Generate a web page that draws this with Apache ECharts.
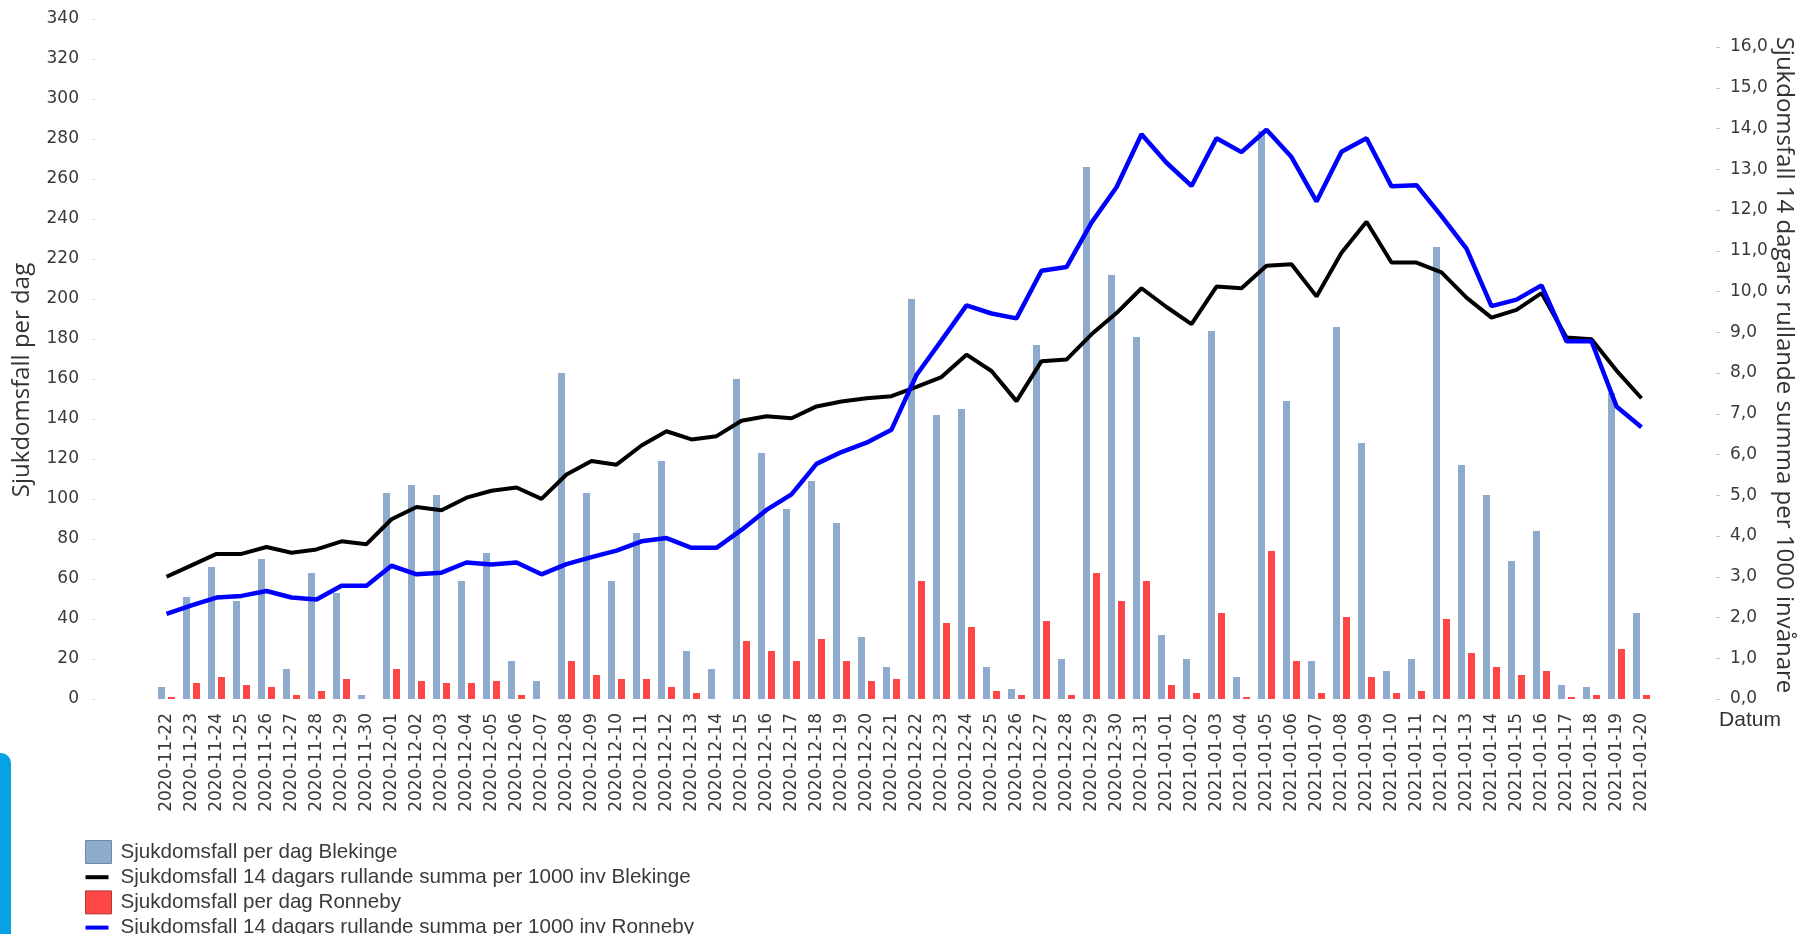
<!DOCTYPE html>
<html>
<head>
<meta charset="utf-8">
<script src="https://cdn.jsdelivr.net/npm/echarts@6/dist/echarts.min.js"></script>
<style>
  html, body { margin: 0; padding: 0; background: #fff; }
  #chart { width: 1802px; height: 934px; }
</style>
</head>
<body>
<div id="chart"></div>
<script>
// datum (x-axel)
var datum = [
    '2020-11-22', '2020-11-23', '2020-11-24', '2020-11-25', '2020-11-26', '2020-11-27', '2020-11-28', '2020-11-29', '2020-11-30',
    '2020-12-01', '2020-12-02', '2020-12-03', '2020-12-04', '2020-12-05', '2020-12-06', '2020-12-07', '2020-12-08', '2020-12-09',
    '2020-12-10', '2020-12-11', '2020-12-12', '2020-12-13', '2020-12-14', '2020-12-15', '2020-12-16', '2020-12-17', '2020-12-18',
    '2020-12-19', '2020-12-20', '2020-12-21', '2020-12-22', '2020-12-23', '2020-12-24', '2020-12-25', '2020-12-26', '2020-12-27',
    '2020-12-28', '2020-12-29', '2020-12-30', '2020-12-31', '2021-01-01', '2021-01-02', '2021-01-03', '2021-01-04', '2021-01-05',
    '2021-01-06', '2021-01-07', '2021-01-08', '2021-01-09', '2021-01-10', '2021-01-11', '2021-01-12', '2021-01-13', '2021-01-14',
    '2021-01-15', '2021-01-16', '2021-01-17', '2021-01-18', '2021-01-19', '2021-01-20'
];

// sjukdomsfall per dag (vänster axel)
var blekingePerDag = [6, 51, 66, 49, 70, 15, 63, 53, 2, 103, 107, 102, 59, 73, 19, 9, 163, 103, 59, 83,
    119, 24, 15, 160, 123, 95, 109, 88, 31, 16, 200, 142, 145, 16, 5, 177, 20, 266, 212, 181,
    32, 20, 184, 11, 284, 149, 19, 186, 128, 14, 20, 226, 117, 102, 69, 84, 7, 6, 153, 43];
var ronnebyPerDag = [1, 8, 11, 7, 6, 2, 4, 10, 0, 15, 9, 8, 8, 9, 2, 0, 19, 12, 10, 10,
    6, 3, 0, 29, 24, 19, 30, 19, 9, 10, 59, 38, 36, 4, 2, 39, 2, 63, 49, 59,
    7, 3, 43, 1, 74, 19, 3, 41, 11, 3, 4, 40, 23, 16, 12, 14, 1, 2, 25, 2];

// 14 dagars rullande summa per 1000 inv (höger axel)
var blekingeRullande = [3.00, 3.28, 3.56, 3.56, 3.73, 3.59, 3.67, 3.87, 3.80, 4.41, 4.71, 4.63, 4.94, 5.11, 5.19, 4.91, 5.51, 5.84, 5.75, 6.22,
    6.57, 6.37, 6.45, 6.83, 6.94, 6.89, 7.18, 7.30, 7.38, 7.43, 7.66, 7.90, 8.45, 8.05, 7.31, 8.29, 8.33, 8.95, 9.47, 10.08,
    9.62, 9.20, 10.12, 10.08, 10.63, 10.67, 9.88, 10.95, 11.71, 10.71, 10.71, 10.47, 9.85, 9.36, 9.55, 9.96, 8.87, 8.83, 8.06, 7.38];
var ronnebyRullande = [2.09, 2.30, 2.49, 2.53, 2.65, 2.49, 2.44, 2.78, 2.78, 3.27, 3.06, 3.10, 3.35, 3.30, 3.35, 3.06, 3.31, 3.48, 3.64, 3.87,
    3.95, 3.71, 3.71, 4.15, 4.64, 5.02, 5.77, 6.06, 6.29, 6.61, 7.95, 8.80, 9.66, 9.46, 9.34, 10.51, 10.60, 11.69, 12.56, 13.86,
    13.16, 12.59, 13.76, 13.42, 13.97, 13.30, 12.21, 13.43, 13.76, 12.58, 12.61, 11.85, 11.05, 9.64, 9.80, 10.15, 8.78, 8.78, 7.18, 6.67];

var namn = [
    'Sjukdomsfall per dag Blekinge',
    'Sjukdomsfall 14 dagars rullande summa per 1000 inv Blekinge',
    'Sjukdomsfall per dag Ronneby',
    'Sjukdomsfall 14 dagars rullande summa per 1000 inv Ronneby'
];

var tickFont = { fontFamily: 'DejaVu Sans', fontSize: 17, color: '#3a3a3a' };
// kort tjock linje som legendsymbol (osynliga punkter ger rutans storlek)
var linjeIkon = 'path://M0,0M26,23M0,9.5H23V13.5H0Z';

var chart = echarts.init(document.getElementById('chart'));
var option = {
    animation: false,
    backgroundColor: '#fff',
    grid: [
        { left: 154, right: 148, top: 19, bottom: 235 },   // staplar, 0-340
        { left: 154, right: 148, top: 47, bottom: 235 }    // linjer, 0-16
    ],
    xAxis: [
        {
            type: 'category', gridIndex: 0, data: datum,
            axisLine: { show: false }, axisTick: { show: false },
            axisLabel: Object.assign({ rotate: 90, interval: 0, margin: 14 }, tickFont)
        },
        { type: 'category', gridIndex: 1, data: datum, show: false }
    ],
    yAxis: [
        {
            type: 'value', gridIndex: 0, min: 0, max: 340, interval: 20,
            position: 'left', offset: 59,
            splitLine: { show: false }, axisLine: { show: false },
            axisTick: { show: true, length: 2, lineStyle: { color: '#cfcfcf' } },
            axisLabel: Object.assign({ margin: 16 }, tickFont)
        },
        {
            type: 'value', gridIndex: 1, min: 0, max: 16, interval: 1,
            position: 'right', offset: 62,
            splitLine: { show: false }, axisLine: { show: false },
            axisTick: { show: true, length: 4, lineStyle: { color: '#c4c4c4' } },
            axisLabel: Object.assign({
                margin: 14,
                formatter: function (v) { return v.toFixed(1).replace('.', ','); }
            }, tickFont)
        }
    ],
    legend: {
        orient: 'vertical', left: 80, top: 835, height: 140,
        itemWidth: 26, itemHeight: 23, itemGap: 1.7,
        textStyle: { fontFamily: 'Liberation Sans', fontSize: 20.6, color: '#3a3a3a', lineHeight: 23, padding: [0, 0, 0, 4] },
        data: [
            { name: namn[0], icon: 'rect', itemStyle: { borderColor: '#7189a8', borderWidth: 1 } },
            { name: namn[1], icon: linjeIkon },
            { name: namn[2], icon: 'rect', itemStyle: { borderColor: '#b03a3a', borderWidth: 1 } },
            { name: namn[3], icon: linjeIkon }
        ]
    },
    graphic: [
        {   // blå kant nere till vänster
            type: 'rect', left: 0, top: 753,
            shape: { width: 11, height: 181, r: [0, 10, 0, 0] },
            style: { fill: '#05a3e3' }
        },
        {
            type: 'text', x: 22, y: 380, rotation: Math.PI / 2,
            style: { text: 'Sjukdomsfall per dag', font: '24px "Open Sans"', fill: '#333', align: 'center', verticalAlign: 'middle' }
        },
        {
            type: 'text', x: 1784, y: 365, rotation: -Math.PI / 2,
            style: { text: 'Sjukdomsfall 14 dagars rullande summa per 1000 invånare', font: '24px "Open Sans"', fill: '#333', align: 'center', verticalAlign: 'middle' }
        },
        {
            type: 'text', x: 1750, y: 720,
            style: { text: 'Datum', font: '21px "Liberation Sans"', fill: '#333', align: 'center', verticalAlign: 'middle' }
        }
    ],
    series: [
        {
            name: namn[0], type: 'bar', xAxisIndex: 0, yAxisIndex: 0,
            data: blekingePerDag, barWidth: 7, barGap: '43%',
            itemStyle: { color: '#8eaacc' }
        },
        {
            name: namn[1], type: 'line', xAxisIndex: 1, yAxisIndex: 1, z: 3,
            data: blekingeRullande, symbol: 'none',
            lineStyle: { color: '#000', width: 4 }, itemStyle: { color: '#000' }
        },
        {
            name: namn[2], type: 'bar', xAxisIndex: 0, yAxisIndex: 0,
            data: ronnebyPerDag, barWidth: 7, barGap: '43%',
            itemStyle: { color: '#ff4646' }
        },
        {
            name: namn[3], type: 'line', xAxisIndex: 1, yAxisIndex: 1, z: 4,
            data: ronnebyRullande, symbol: 'none',
            lineStyle: { color: '#0000ff', width: 4.5 }, itemStyle: { color: '#0000ff' }
        }
    ]
};
chart.setOption(option);
</script>
</body>
</html>
